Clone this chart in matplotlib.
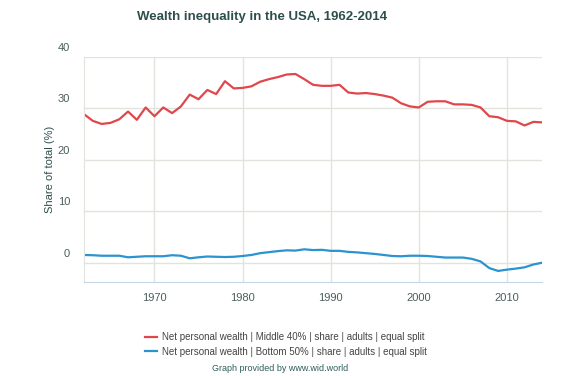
import matplotlib.pyplot as plt
from matplotlib.transforms import ScaledTranslation

plt.rcParams['font.family'] = ['Liberation Sans', 'DejaVu Sans']

years = list(range(1962, 2015))

middle_40 = [28.9, 27.6, 27.0, 27.2, 27.9, 29.4, 27.8, 30.2, 28.5, 30.2,
             29.1, 30.4, 32.7, 31.8, 33.6, 32.8, 35.3, 33.9, 34.0, 34.3,
             35.2, 35.7, 36.1, 36.6, 36.7, 35.7, 34.6, 34.4, 34.4, 34.6,
             33.1, 32.9, 33.0, 32.8, 32.5, 32.1, 31.0, 30.4, 30.2, 31.3,
             31.4, 31.4, 30.8, 30.8, 30.7, 30.2, 28.5, 28.3, 27.6, 27.5,
             26.7, 27.4, 27.3]

bottom_50 = [1.55, 1.5, 1.4, 1.4, 1.4, 1.1, 1.2, 1.3, 1.3, 1.3,
             1.5, 1.4, 0.9, 1.1, 1.25, 1.2, 1.15, 1.2, 1.35, 1.55,
             1.9, 2.1, 2.3, 2.45, 2.4, 2.65, 2.5, 2.55, 2.35, 2.35,
             2.15, 2.05, 1.9, 1.75, 1.55, 1.35, 1.3, 1.4, 1.4, 1.35,
             1.2, 1.05, 1.05, 1.05, 0.8, 0.3, -1.0, -1.55, -1.3, -1.1,
             -0.85, -0.3, 0.05]

labels = [
    "Net personal wealth | Middle 40% | share | adults | equal split",
    "Net personal wealth | Bottom 50% | share | adults | equal split",
]
colors = ["#e0474c", "#2b93cf"]

title_col = "#2d4f4c"
text_col = "#4b5e5c"
grid_col = "#e3e3de"

fig = plt.figure(figsize=(5.8, 3.76), dpi=100)
ax = fig.add_axes([0.1448, 0.25, 0.79, 0.5984])

ax.plot(years, middle_40, color=colors[0], lw=1.6, label=labels[0],
        solid_joinstyle='round')
ax.plot(years, bottom_50, color=colors[1], lw=1.6, label=labels[1],
        solid_joinstyle='round')

ax.set_xlim(1962, 2014)
ax.set_ylim(-3.7, 40)
ax.set_xticks([1970, 1980, 1990, 2000, 2010])
ax.set_yticks([0, 10, 20, 30, 40])
ax.grid(True, color=grid_col, lw=1)
ax.set_axisbelow(True)
ax.tick_params(length=0, labelsize=8, colors=text_col)
ax.tick_params(axis='x', pad=8)
ax.tick_params(axis='y', pad=10)

# y labels sit just above their gridlines
off = ScaledTranslation(0, 3 / 72, fig.dpi_scale_trans)
for lbl in ax.get_yticklabels():
    lbl.set_verticalalignment('bottom')
    lbl.set_transform(lbl.get_transform() + off)

for s in ['top', 'right']:
    ax.spines[s].set_visible(False)
ax.spines['left'].set_color(grid_col)
ax.spines['bottom'].set_color("#c6d6e6")

ax.set_ylabel("Share of total (%)", fontsize=8, color=title_col, labelpad=2)

fig.text(0.452, 0.955, "Wealth inequality in the USA, 1962-2014",
         ha='center', va='center', fontsize=9.5, fontweight='bold', color=title_col)

fig.legend(loc='center', bbox_to_anchor=(0.493, 0.084), frameon=False,
           fontsize=7, handlelength=1.2, handletextpad=0.5, labelspacing=0.45,
           labelcolor="#444444")

fig.text(0.483, 0.02, "Graph provided by www.wid.world", ha='center', va='center',
         fontsize=6.5, color="#2f5e5a")

fig.savefig("out.png", dpi=100)
